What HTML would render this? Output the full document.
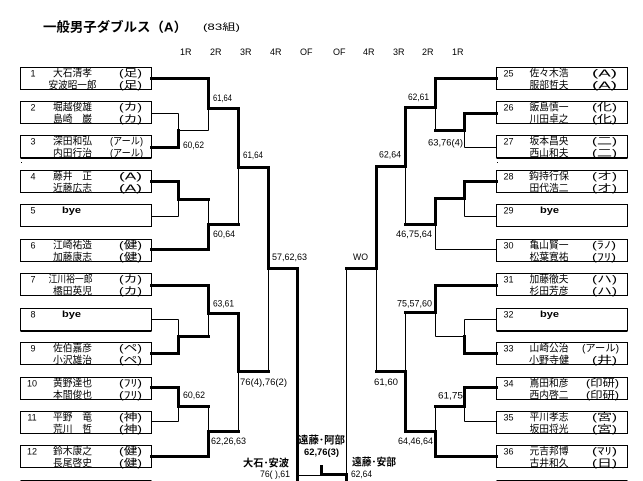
<!DOCTYPE html>
<html><head><meta charset="utf-8"><style>
html,body{margin:0;padding:0;background:#fff;}
body{width:643px;height:481px;overflow:hidden;}
svg{display:block;}
text{font-family:"Liberation Sans","Noto Sans CJK JP",sans-serif;fill:#000;}
.n{font-size:9px;text-anchor:middle;}
.m{font-size:10px;text-anchor:middle;}
.a{font-size:10px;text-anchor:end;}
.s{font-size:9px;}
.b{font-size:9px;font-weight:bold;}
.bb{font-size:10px;font-weight:bold;}
</style></head><body>
<svg width="643" height="481" viewBox="0 0 643 481" xmlns="http://www.w3.org/2000/svg">
<rect x="0" y="0" width="643" height="481" fill="#fff"/>
<!-- title -->
<text x="43" y="31.5" style="font-size:13px;font-weight:bold;" textLength="144" lengthAdjust="spacingAndGlyphs">一般男子ダブルス（A）</text>
<text x="203" y="30" style="font-size:9px;" textLength="37" lengthAdjust="spacingAndGlyphs">(83組)</text>
<!-- headers -->
<g class="s" style="font-size:9px">
<text x="180" y="55">1R</text><text x="210" y="55">2R</text><text x="240" y="55">3R</text><text x="270" y="55">4R</text><text x="300" y="55">OF</text>
<text x="333" y="55">OF</text><text x="363" y="55">4R</text><text x="393" y="55">3R</text><text x="422" y="55">2R</text><text x="452" y="55">1R</text>
</g>
<g transform="translate(0.5,0.5)" fill="none" stroke="#000">
<!-- boxes -->
<g stroke-width="1">
<rect x="20" y="67" width="131" height="22"/><rect x="20" y="101" width="131" height="22"/><rect x="20" y="135" width="131" height="22"/>
<rect x="20" y="170" width="131" height="22"/><rect x="20" y="204" width="131" height="22"/><rect x="20" y="239" width="131" height="22"/>
<rect x="20" y="273" width="131" height="22"/><rect x="20" y="308" width="131" height="22"/><rect x="20" y="342" width="131" height="22"/>
<rect x="20" y="377" width="131" height="22"/><rect x="20" y="411" width="131" height="22"/><rect x="20" y="445" width="131" height="22"/>
<rect x="496" y="67" width="131" height="22"/><rect x="496" y="101" width="131" height="22"/><rect x="496" y="135" width="131" height="22"/>
<rect x="496" y="170" width="131" height="22"/><rect x="496" y="204" width="131" height="22"/><rect x="496" y="239" width="131" height="22"/>
<rect x="496" y="273" width="131" height="22"/><rect x="496" y="308" width="131" height="22"/><rect x="496" y="342" width="131" height="22"/>
<rect x="496" y="377" width="131" height="22"/><rect x="496" y="411" width="131" height="22"/><rect x="496" y="445" width="131" height="22"/>
<path d="M20 158H151 M20 331H151 M496 158H627 M496 331H627"/>
<path d="M20 480H151 M496 480H627"/>
</g>
<!-- thick lines -->
<path stroke-width="3" stroke-linecap="square" d="
M151 78H208 M151 147H178 M151 181H178 M151 249H208 M151 285H208 M151 353H178 M151 387H178 M151 456H208
M178 130V147 M178 181V199H208 M178 336V353 M178 336H208 M178 387V406H208
M208 78V108H238 M208 224V249 M208 224H238 M208 285V313H238 M208 431V456 M208 431H238
M238 108V167H268 M238 313V371H268
M268 167V268H297V482
M321 466V474H346V482
M435 78H496 M464 113H496 M464 181H496 M435 285H496 M464 353H496 M464 387H496 M435 456H496
M464 113V130H435 M464 181V198H435 M464 336V353 M464 387V406H435
M435 78V107H405 M435 198V224H405 M435 285V312H405 M435 431V456 M435 431H405
M405 107V166H376 M405 371V431 M405 371H376
M376 166V268H346"/>
<!-- thin lines -->
<path stroke-width="1" d="
M151 113H178 M151 216H178 M151 319H178 M151 421H178
M178 113V130H208 M178 199V216 M178 319V336 M178 406V421
M208 108V130 M208 199V224 M208 313V336 M208 406V431
M238 167V224 M238 371V431 M268 268V371
M297 475H321
M464 147H496 M464 216H496 M435 249H496 M464 319H496 M464 421H496
M464 130V147 M464 198V216 M464 319V336H435 M464 406V421
M435 107V130 M435 224V249 M435 312V336 M435 406V431
M405 166V224 M405 312V371 M376 268V371 M346 268V474"/>
</g>
<rect x="21" y="162" width="1" height="1" fill="#000"/>
<rect x="497" y="162" width="1" height="1" fill="#000"/>

<!-- left boxes text -->
<g>
<text class="n" x="33" y="76.5">1</text><text class="m" x="72.5" y="76.5" textLength="39" lengthAdjust="spacingAndGlyphs">大石清孝</text><text class="a" x="142" y="76.5" textLength="23" lengthAdjust="spacingAndGlyphs">(足)</text>
<text class="m" x="72.5" y="88.5" textLength="48" lengthAdjust="spacingAndGlyphs">安波昭一郎</text><text class="a" x="142" y="88.5" textLength="23" lengthAdjust="spacingAndGlyphs">(足)</text>

<text class="n" x="33" y="110.5">2</text><text class="m" x="72.5" y="110.5" textLength="39" lengthAdjust="spacingAndGlyphs">堀越俊雄</text><text class="a" x="142" y="110.5" textLength="23" lengthAdjust="spacingAndGlyphs">(カ)</text>
<text class="m" x="72.5" y="122.5" textLength="39" lengthAdjust="spacingAndGlyphs">島崎　巌</text><text class="a" x="142" y="122.5" textLength="23" lengthAdjust="spacingAndGlyphs">(カ)</text>

<text class="n" x="33" y="144.5">3</text><text class="m" x="72.5" y="144.5" textLength="39" lengthAdjust="spacingAndGlyphs">深田和弘</text><text class="a" x="143" y="144.5" textLength="33" lengthAdjust="spacingAndGlyphs">(アール)</text>
<text class="m" x="72.5" y="156.5" textLength="39" lengthAdjust="spacingAndGlyphs">内田行治</text><text class="a" x="143" y="156.5" textLength="33" lengthAdjust="spacingAndGlyphs">(アール)</text>

<text class="n" x="33" y="179.5">4</text><text class="m" x="72.5" y="179.5" textLength="39" lengthAdjust="spacingAndGlyphs">藤井　正</text><text class="a" x="142" y="179.5" textLength="23" lengthAdjust="spacingAndGlyphs">(A)</text>
<text class="m" x="72.5" y="191.5" textLength="39" lengthAdjust="spacingAndGlyphs">近藤広志</text><text class="a" x="142" y="191.5" textLength="23" lengthAdjust="spacingAndGlyphs">(A)</text>

<text class="n" x="33" y="213.5">5</text><text class="b" x="62" y="213" textLength="19" lengthAdjust="spacingAndGlyphs">bye</text>

<text class="n" x="33" y="248.5">6</text><text class="m" x="72.5" y="248.5" textLength="39" lengthAdjust="spacingAndGlyphs">江崎祐造</text><text class="a" x="142" y="248.5" textLength="23" lengthAdjust="spacingAndGlyphs">(健)</text>
<text class="m" x="72.5" y="260.5" textLength="39" lengthAdjust="spacingAndGlyphs">加藤康志</text><text class="a" x="142" y="260.5" textLength="23" lengthAdjust="spacingAndGlyphs">(健)</text>

<text class="n" x="33" y="282.5">7</text><text class="m" x="70.5" y="282.5" textLength="44" lengthAdjust="spacingAndGlyphs">江川裕一郎</text><text class="a" x="142" y="282.5" textLength="23" lengthAdjust="spacingAndGlyphs">(カ)</text>
<text class="m" x="72.5" y="294.5" textLength="39" lengthAdjust="spacingAndGlyphs">橋田英児</text><text class="a" x="142" y="294.5" textLength="23" lengthAdjust="spacingAndGlyphs">(カ)</text>

<text class="n" x="33" y="317.5">8</text><text class="b" x="62" y="317" textLength="19" lengthAdjust="spacingAndGlyphs">bye</text>

<text class="n" x="33" y="351.5">9</text><text class="m" x="72.5" y="351.5" textLength="39" lengthAdjust="spacingAndGlyphs">佐伯嘉彦</text><text class="a" x="142" y="351.5" textLength="23" lengthAdjust="spacingAndGlyphs">(ペ)</text>
<text class="m" x="72.5" y="363.5" textLength="39" lengthAdjust="spacingAndGlyphs">小沢雄治</text><text class="a" x="142" y="363.5" textLength="23" lengthAdjust="spacingAndGlyphs">(ペ)</text>

<text class="n" x="32" y="386.5">10</text><text class="m" x="72.5" y="386.5" textLength="39" lengthAdjust="spacingAndGlyphs">黄野達也</text><text class="a" x="142" y="386.5" textLength="23" lengthAdjust="spacingAndGlyphs">(ﾌﾘ)</text>
<text class="m" x="72.5" y="398.5" textLength="39" lengthAdjust="spacingAndGlyphs">本間俊也</text><text class="a" x="142" y="398.5" textLength="23" lengthAdjust="spacingAndGlyphs">(ﾌﾘ)</text>

<text class="n" x="32" y="420.5">11</text><text class="m" x="72.5" y="420.5" textLength="39" lengthAdjust="spacingAndGlyphs">平野　竜</text><text class="a" x="142" y="420.5" textLength="23" lengthAdjust="spacingAndGlyphs">(神)</text>
<text class="m" x="72.5" y="432.5" textLength="39" lengthAdjust="spacingAndGlyphs">荒川　哲</text><text class="a" x="142" y="432.5" textLength="23" lengthAdjust="spacingAndGlyphs">(神)</text>

<text class="n" x="32" y="454.5">12</text><text class="m" x="72.5" y="454.5" textLength="39" lengthAdjust="spacingAndGlyphs">鈴木康之</text><text class="a" x="142" y="454.5" textLength="23" lengthAdjust="spacingAndGlyphs">(健)</text>
<text class="m" x="72.5" y="466.5" textLength="39" lengthAdjust="spacingAndGlyphs">長尾啓史</text><text class="a" x="142" y="466.5" textLength="23" lengthAdjust="spacingAndGlyphs">(健)</text>
</g>

<!-- right boxes text -->
<g>
<text class="n" x="508.5" y="76.5">25</text><text class="m" x="549" y="76.5" textLength="39" lengthAdjust="spacingAndGlyphs">佐々木浩</text><text class="a" x="617" y="76.5" textLength="25" lengthAdjust="spacingAndGlyphs">(A)</text>
<text class="m" x="549" y="88.5" textLength="39" lengthAdjust="spacingAndGlyphs">服部哲夫</text><text class="a" x="617" y="88.5" textLength="25" lengthAdjust="spacingAndGlyphs">(A)</text>

<text class="n" x="508.5" y="110.5">26</text><text class="m" x="549" y="110.5" textLength="39" lengthAdjust="spacingAndGlyphs">飯島慎一</text><text class="a" x="617" y="110.5" textLength="25" lengthAdjust="spacingAndGlyphs">(化)</text>
<text class="m" x="549" y="122.5" textLength="39" lengthAdjust="spacingAndGlyphs">川田卓之</text><text class="a" x="617" y="122.5" textLength="25" lengthAdjust="spacingAndGlyphs">(化)</text>

<text class="n" x="508.5" y="144.5">27</text><text class="m" x="549" y="144.5" textLength="39" lengthAdjust="spacingAndGlyphs">坂本昌央</text><text class="a" x="617" y="144.5" textLength="25" lengthAdjust="spacingAndGlyphs">(二)</text>
<text class="m" x="549" y="156.5" textLength="39" lengthAdjust="spacingAndGlyphs">西山和夫</text><text class="a" x="617" y="156.5" textLength="25" lengthAdjust="spacingAndGlyphs">(二)</text>

<text class="n" x="508.5" y="179.5">28</text><text class="m" x="549" y="179.5" textLength="40" lengthAdjust="spacingAndGlyphs">鈎持行保</text><text class="a" x="617" y="179.5" textLength="25" lengthAdjust="spacingAndGlyphs">(オ)</text>
<text class="m" x="549" y="191.5" textLength="39" lengthAdjust="spacingAndGlyphs">田代浩二</text><text class="a" x="617" y="191.5" textLength="25" lengthAdjust="spacingAndGlyphs">(オ)</text>

<text class="n" x="508.5" y="213.5">29</text><text class="b" x="540" y="213" textLength="19" lengthAdjust="spacingAndGlyphs">bye</text>

<text class="n" x="508.5" y="248.5">30</text><text class="m" x="549" y="248.5" textLength="39" lengthAdjust="spacingAndGlyphs">亀山賢一</text><text class="a" x="616" y="248.5" textLength="24" lengthAdjust="spacingAndGlyphs">(ﾗﾉ)</text>
<text class="m" x="549" y="260.5" textLength="39" lengthAdjust="spacingAndGlyphs">松葉寛祐</text><text class="a" x="616" y="260.5" textLength="24" lengthAdjust="spacingAndGlyphs">(ﾌﾘ)</text>

<text class="n" x="508.5" y="282.5">31</text><text class="m" x="549" y="282.5" textLength="39" lengthAdjust="spacingAndGlyphs">加藤徹夫</text><text class="a" x="617" y="282.5" textLength="25" lengthAdjust="spacingAndGlyphs">(ハ)</text>
<text class="m" x="549" y="294.5" textLength="39" lengthAdjust="spacingAndGlyphs">杉田芳彦</text><text class="a" x="617" y="294.5" textLength="25" lengthAdjust="spacingAndGlyphs">(ハ)</text>

<text class="n" x="508.5" y="317.5">32</text><text class="b" x="540" y="317" textLength="19" lengthAdjust="spacingAndGlyphs">bye</text>

<text class="n" x="508.5" y="351.5">33</text><text class="m" x="549" y="351.5" textLength="39" lengthAdjust="spacingAndGlyphs">山崎公治</text><text class="a" x="619" y="351.5" textLength="37" lengthAdjust="spacingAndGlyphs">(アール)</text>
<text class="m" x="549" y="363.5" textLength="40" lengthAdjust="spacingAndGlyphs">小野寺健</text><text class="a" x="617" y="363.5" textLength="25" lengthAdjust="spacingAndGlyphs">(井)</text>

<text class="n" x="508.5" y="386.5">34</text><text class="m" x="549" y="386.5" textLength="39" lengthAdjust="spacingAndGlyphs">嶌田和彦</text><text class="a" x="619" y="386.5" textLength="33" lengthAdjust="spacingAndGlyphs">(印研)</text>
<text class="m" x="549" y="398.5" textLength="39" lengthAdjust="spacingAndGlyphs">西内啓二</text><text class="a" x="619" y="398.5" textLength="33" lengthAdjust="spacingAndGlyphs">(印研)</text>

<text class="n" x="508.5" y="420.5">35</text><text class="m" x="549" y="420.5" textLength="39" lengthAdjust="spacingAndGlyphs">平川孝志</text><text class="a" x="617" y="420.5" textLength="25" lengthAdjust="spacingAndGlyphs">(宮)</text>
<text class="m" x="549" y="432.5" textLength="39" lengthAdjust="spacingAndGlyphs">坂田将光</text><text class="a" x="617" y="432.5" textLength="25" lengthAdjust="spacingAndGlyphs">(宮)</text>

<text class="n" x="508.5" y="454.5">36</text><text class="m" x="549" y="454.5" textLength="39" lengthAdjust="spacingAndGlyphs">元吉邦博</text><text class="a" x="617" y="454.5" textLength="25" lengthAdjust="spacingAndGlyphs">(ﾏﾘ)</text>
<text class="m" x="549" y="466.5" textLength="39" lengthAdjust="spacingAndGlyphs">古井和久</text><text class="a" x="617" y="466.5" textLength="25" lengthAdjust="spacingAndGlyphs">(日)</text>
</g>

<!-- scores left -->
<g class="s">
<text x="213" y="101" textLength="19" lengthAdjust="spacingAndGlyphs">61,64</text>
<text x="183" y="148" textLength="21" lengthAdjust="spacingAndGlyphs">60,62</text>
<text x="243" y="158" textLength="20" lengthAdjust="spacingAndGlyphs">61,64</text>
<text x="213" y="237" textLength="22" lengthAdjust="spacingAndGlyphs">60,64</text>
<text x="272" y="260" textLength="35" lengthAdjust="spacingAndGlyphs">57,62,63</text>
<text x="213" y="306.5" textLength="21" lengthAdjust="spacingAndGlyphs">63,61</text>
<text x="240" y="385" textLength="47" lengthAdjust="spacingAndGlyphs">76(4),76(2)</text>
<text x="183" y="398" textLength="22" lengthAdjust="spacingAndGlyphs">60,62</text>
<text x="211" y="444" textLength="35" lengthAdjust="spacingAndGlyphs">62,26,63</text>
<text x="260" y="477" textLength="30" lengthAdjust="spacingAndGlyphs">76( ),61</text>
<text x="351" y="477" textLength="21" lengthAdjust="spacingAndGlyphs">62,64</text>
</g>
<!-- scores right -->
<g class="s">
<text x="408" y="100" textLength="21" lengthAdjust="spacingAndGlyphs">62,61</text>
<text x="428" y="145.5" textLength="35" lengthAdjust="spacingAndGlyphs">63,76(4)</text>
<text x="379" y="157.5" textLength="22" lengthAdjust="spacingAndGlyphs">62,64</text>
<text x="396" y="237" textLength="36" lengthAdjust="spacingAndGlyphs">46,75,64</text>
<text x="353" y="260" textLength="15" lengthAdjust="spacingAndGlyphs">WO</text>
<text x="397" y="306.5" textLength="35" lengthAdjust="spacingAndGlyphs">75,57,60</text>
<text x="374" y="385" textLength="24" lengthAdjust="spacingAndGlyphs">61,60</text>
<text x="438" y="398.5" textLength="25" lengthAdjust="spacingAndGlyphs">61,75</text>
<text x="398" y="444" textLength="35" lengthAdjust="spacingAndGlyphs">64,46,64</text>
</g>
<!-- bold labels -->
<text class="bb" x="243" y="466.5" textLength="46" lengthAdjust="spacingAndGlyphs">大石･安波</text>
<text class="bb" x="298" y="443.5" textLength="47" lengthAdjust="spacingAndGlyphs">遠藤･阿部</text>
<text class="b" x="304" y="455" textLength="35" lengthAdjust="spacingAndGlyphs">62,76(3)</text>
<text class="bb" x="352" y="465.5" textLength="44" lengthAdjust="spacingAndGlyphs">遠藤･安部</text>
</svg>
</body></html>
